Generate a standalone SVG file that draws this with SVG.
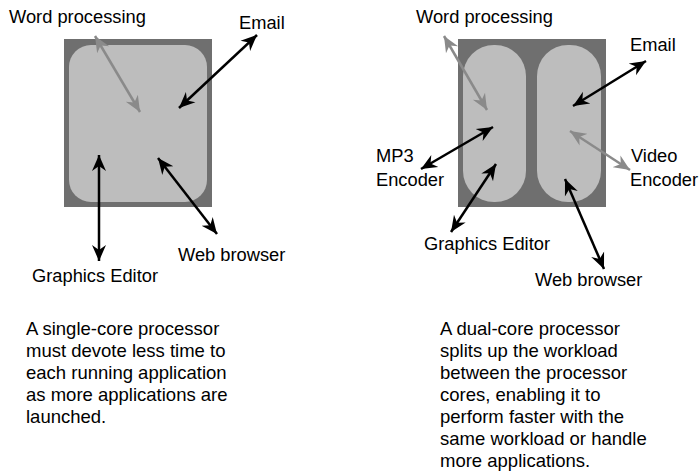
<svg xmlns="http://www.w3.org/2000/svg" width="700" height="473" viewBox="0 0 700 473">
<defs>
<marker id="ab" markerUnits="userSpaceOnUse" markerWidth="18" markerHeight="16" refX="16" refY="8" orient="auto-start-reverse"><path d="M0,1 L16,8 L0,15 L5,8 Z" fill="#000"/></marker>
<marker id="ag" markerUnits="userSpaceOnUse" markerWidth="18" markerHeight="16" refX="16" refY="8" orient="auto-start-reverse"><path d="M0,1 L16,8 L0,15 L5,8 Z" fill="#8a8a8a"/></marker>
</defs>
<style>
text{font-family:"Liberation Sans",Arial,sans-serif;font-size:18.3px;fill:#000}
.cap text{font-size:18.5px}
.chip{fill:#6f6f6f}
.core{fill:#bdbdbd}
.b{stroke:#000;stroke-width:2.5;fill:none;marker-start:url(#ab);marker-end:url(#ab)}
.g{stroke:#8a8a8a;stroke-width:2.5;fill:none;marker-start:url(#ag);marker-end:url(#ag)}
</style>
<rect width="700" height="473" fill="#fff"/>
<g id="single-core">
<rect class="chip" x="64" y="39" width="148" height="168"/>
<rect class="core" x="69" y="45" width="138" height="157" rx="22" ry="22"/>
</g>
<g id="dual-core">
<rect class="chip" x="458" y="39" width="148" height="168"/>
<rect class="core" x="463" y="45" width="63" height="157" rx="31" ry="31"/>
<rect class="core" x="537" y="45" width="64" height="157" rx="31" ry="31"/>
</g>
<g id="connectors">
<line class="g" x1="95" y1="36" x2="140" y2="112"/>
<line class="b" x1="257" y1="35" x2="179" y2="108"/>
<line class="b" x1="99" y1="155" x2="99" y2="261"/>
<line class="b" x1="158" y1="158" x2="217" y2="234"/>
<line class="g" x1="444" y1="36" x2="487" y2="110"/>
<line class="b" x1="646" y1="61" x2="573" y2="106"/>
<line class="b" x1="493" y1="127" x2="421" y2="169"/>
<line class="g" x1="570" y1="131" x2="630" y2="170"/>
<line class="b" x1="496" y1="164" x2="451" y2="232"/>
<line class="b" x1="565" y1="179" x2="604" y2="269"/>
</g>
<g id="labels-left">
<text x="9" y="23">Word processing</text>
<text x="239" y="29">Email</text>
<text x="178" y="261">Web browser</text>
<text x="32" y="282">Graphics Editor</text>
</g>
<g id="labels-right">
<text x="416" y="23">Word processing</text>
<text x="630" y="51">Email</text>
<text x="376" y="162">MP3</text>
<text x="376" y="186">Encoder</text>
<text x="631" y="162">Video</text>
<text x="630" y="186">Encoder</text>
<text x="424" y="250">Graphics Editor</text>
<text x="535" y="286">Web browser</text>
</g>
<g id="caption-left" class="cap">
<text x="26" y="335">A single-core processor</text>
<text x="26" y="357">must devote less time to</text>
<text x="26" y="379">each running application</text>
<text x="26" y="401">as more applications are</text>
<text x="26" y="423">launched.</text>
</g>
<g id="caption-right" class="cap">
<text x="440" y="335">A dual-core processor</text>
<text x="440" y="357">splits up the workload</text>
<text x="440" y="379">between the processor</text>
<text x="440" y="401">cores, enabling it to</text>
<text x="440" y="423">perform faster with the</text>
<text x="440" y="445">same workload or handle</text>
<text x="440" y="467">more applications.</text>
</g>
</svg>
